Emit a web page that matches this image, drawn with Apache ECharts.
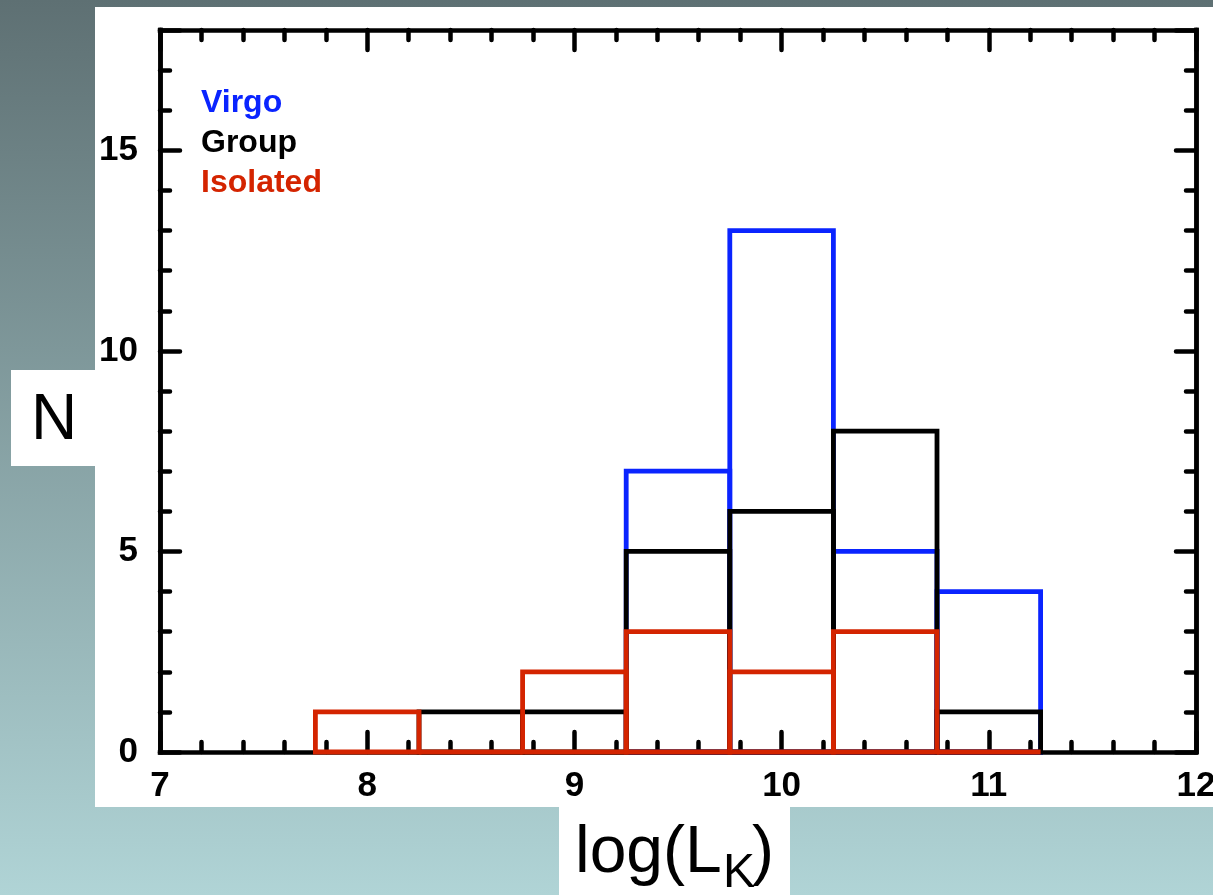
<!DOCTYPE html>
<html>
<head>
<meta charset="utf-8">
<script src="https://cdn.jsdelivr.net/npm/echarts@6/dist/echarts.min.js"></script>
<style>
html,body{margin:0;padding:0;overflow:hidden;}
#chart{width:1213px;height:895px;}
</style>
</head>
<body>
<div id="chart"></div>
<script>
// ---- data ----
var binCenters = [8.0, 8.5, 9.0, 9.5, 10.0, 10.5, 11.0];
var binWidth = 0.5;
var virgo    = [null, null, null, 7, 13, 5, 4];
var group    = [null, 1, 1, 5, 6, 8, 1];
var isolated = [1, 0, 2, 3, 2, 3, 0];
var xTicks = [7, 8, 9, 10, 11, 12];
var yTickLabels = [0, 5, 10, 15];
var legendNames = ['Virgo', 'Group', 'Isolated'];

var colors = { Virgo: '#0a24ff', Group: '#000000', Isolated: '#d42400' };

function pairs(vals) {
  var out = [];
  for (var i = 0; i < binCenters.length; i++) {
    if (vals[i] !== null) out.push([binCenters[i], vals[i]]);
  }
  return out;
}

function boxSeries(name, vals) {
  var col = colors[name];
  return {
    type: 'custom',
    name: name,
    xAxisIndex: 0,
    yAxisIndex: 0,
    data: pairs(vals),
    renderItem: function (params, api) {
      var c = api.value(0), v = api.value(1);
      var tl = api.coord([c - binWidth / 2, v]);
      var br = api.coord([c + binWidth / 2, 0]);
      return {
        type: 'rect',
        shape: { x: tl[0], y: tl[1], width: br[0] - tl[0], height: br[1] - tl[1] },
        style: { fill: 'none', stroke: col, lineWidth: 4.8, lineJoin: 'miter' }
      };
    }
  };
}

var axisLineStyle = { color: '#000', width: 4.5, cap: 'square' };
var tickStyle = { color: '#000', width: 4.5, cap: 'round' };
var labelFont = { color: '#000', fontSize: 35, fontWeight: 'bold', fontFamily: 'Liberation Sans' };

function xAx(pos, showLabel) {
  return {
    type: 'value', position: pos, min: xTicks[0], max: xTicks[xTicks.length - 1], interval: 1,
    axisLine: { show: true, onZero: false, lineStyle: axisLineStyle },
    axisTick: { show: true, inside: true, length: 20, lineStyle: tickStyle },
    minorTick: { show: true, splitNumber: 5, length: 10, lineStyle: tickStyle },
    splitLine: { show: false }, minorSplitLine: { show: false },
    axisLabel: Object.assign({ show: showLabel, margin: 17 }, labelFont)
  };
}
function yAx(pos, interval, len, showLabel) {
  return {
    type: 'value', position: pos, min: 0, max: 18, interval: interval,
    axisLine: { show: true, onZero: false, lineStyle: axisLineStyle },
    axisTick: { show: true, inside: true, length: len, lineStyle: tickStyle },
    splitLine: { show: false },
    axisLabel: Object.assign({
      show: showLabel, margin: 22,
      formatter: function (v) { return yTickLabels.indexOf(v) >= 0 ? String(v) : ''; }
    }, labelFont)
  };
}

var chart = echarts.init(document.getElementById('chart'), null, { renderer: 'canvas' });
chart.setOption({
  animation: false,
  backgroundColor: 'transparent',
  grid: { left: 160, right: 17, top: 30, bottom: 143, containLabel: false, outerBoundsMode: 'none' },
  xAxis: [xAx('bottom', true), xAx('top', false)],
  yAxis: [yAx('left', 1, 10, false), yAx('left', 5, 20, true), yAx('right', 1, 10, false), yAx('right', 5, 20, false)],
  graphic: [
    { type: 'rect', z: -30, silent: true, shape: { x: 0, y: 0, width: 1213, height: 895 },
      style: { fill: new echarts.graphic.LinearGradient(0, 0, 0, 1, [
        { offset: 0, color: '#5e7073' }, { offset: 1, color: '#b0d4d6' }]) } },
    { type: 'rect', z: -20, silent: true, shape: { x: 95, y: 7, width: 1118, height: 800 }, style: { fill: '#ffffff' } },
    { type: 'rect', z: -20, silent: true, shape: { x: 11, y: 370, width: 85, height: 96 }, style: { fill: '#ffffff' } },
    { type: 'rect', z: -20, silent: true, shape: { x: 559, y: 806, width: 231, height: 89 }, style: { fill: '#ffffff' } },
    { type: 'text', z: 100, left: 201, top: 87, style: { text: legendNames[0], fill: colors.Virgo, font: 'bold 32px "Liberation Sans"' } },
    { type: 'text', z: 100, left: 201, top: 127, style: { text: legendNames[1], fill: colors.Group, font: 'bold 32px "Liberation Sans"' } },
    { type: 'text', z: 100, left: 201, top: 167, style: { text: legendNames[2], fill: colors.Isolated, font: 'bold 32px "Liberation Sans"' } },
    { type: 'text', z: 100, left: 31, top: 389, style: { text: 'N', fill: '#000', font: '64px "Liberation Sans"' } },
    { type: 'text', z: 100, left: 575, top: 821, style: { text: 'log(L', fill: '#000', font: '66px "Liberation Sans"' } },
    { type: 'text', z: 100, left: 723, top: 850, style: { text: 'K', fill: '#000', font: '48px "Liberation Sans"' } },
    { type: 'text', z: 100, left: 752, top: 821, style: { text: ')', fill: '#000', font: '66px "Liberation Sans"' } }
  ],
  series: [boxSeries('Virgo', virgo), boxSeries('Group', group), boxSeries('Isolated', isolated)]
});
</script>
</body>
</html>
